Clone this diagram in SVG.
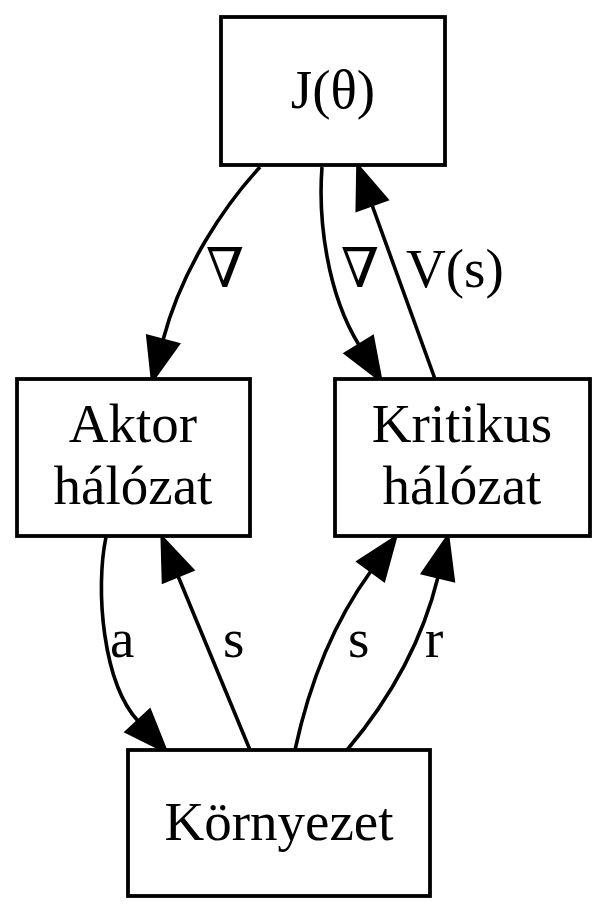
<svg xmlns="http://www.w3.org/2000/svg" width="606" height="917" viewBox="0 0 606 917">
<style>
.node rect{fill:#fff;stroke:#000;stroke-width:3.8}
.node text{font-family:"Liberation Serif","Times New Roman",serif;font-size:55px;fill:#000;text-anchor:middle}
.edge path{fill:none;stroke:#000;stroke-width:3.6}
.lbl{font-family:"Liberation Serif","DejaVu Serif","Times New Roman",serif;font-size:55px;fill:#000}
</style>
<defs>
<marker id="arr" markerUnits="userSpaceOnUse" markerWidth="60" markerHeight="60" refX="0" refY="0" viewBox="-10 -30 60 60" orient="auto" overflow="visible">
<path d="M0,-16 L42,0 L0,16 Z" fill="#000" stroke="#000" stroke-width="3"/>
</marker>
</defs>
<rect width="606" height="917" fill="#fff"/>
<g id="connectors">
<g class="edge" id="e-j-aktor"><path d="M260,167 C225,205 182,268 163,340" marker-end="url(#arr)"/><text class="lbl" x="225" y="287" text-anchor="middle">∇</text></g>
<g class="edge" id="e-j-krit"><path d="M322,167 C318,220 327,293 359,345" marker-end="url(#arr)"/><text class="lbl" x="360" y="287" text-anchor="middle">∇</text></g>
<g class="edge" id="e-krit-j"><path d="M435,379 L372,205" marker-end="url(#arr)"/><text class="lbl" x="406" y="287">V(s)</text></g>
<g class="edge" id="e-aktor-env"><path d="M106,537 C95,590 103,683 138,721" marker-end="url(#arr)"/><text class="lbl" x="110" y="657">a</text></g>
<g class="edge" id="e-env-aktor"><path d="M250,750 L178,576" marker-end="url(#arr)"/><text class="lbl" x="223" y="657">s</text></g>
<g class="edge" id="e-env-krit-s"><path d="M295,750 C310,680 336,619 371,571" marker-end="url(#arr)"/><text class="lbl" x="348" y="657">s</text></g>
<g class="edge" id="e-env-krit-r"><path d="M347,750 C385,705 421,647 438,577" marker-end="url(#arr)"/><text class="lbl" x="425" y="657">r</text></g>
</g>
<g class="node" id="n-j"><rect x="221" y="17" width="224" height="148"/><text x="333" y="108">J(θ)</text></g>
<g class="node" id="n-aktor"><rect x="17" y="379" width="233" height="157"/><text x="133" y="442">Aktor</text><text x="133" y="504">hálózat</text></g>
<g class="node" id="n-krit"><rect x="335" y="379" width="255" height="157"/><text x="462" y="442">Kritikus</text><text x="462" y="504">hálózat</text></g>
<g class="node" id="n-env"><rect x="128" y="750" width="302" height="146"/><text x="279" y="840">Környezet</text></g>
</svg>
